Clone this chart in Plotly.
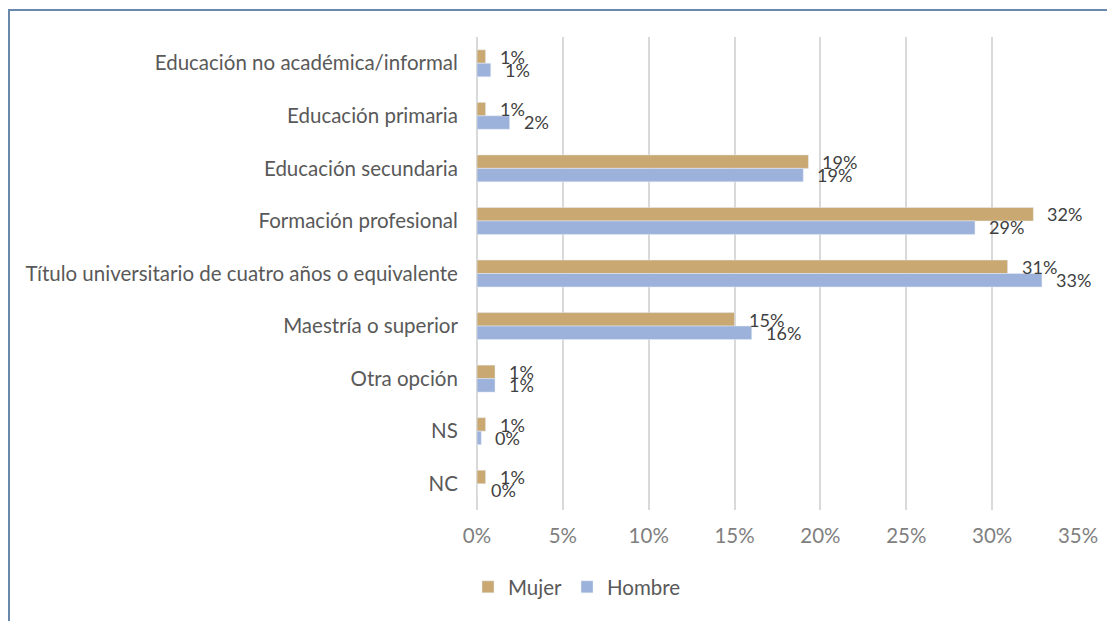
import plotly.graph_objects as go

categories = [
    "Educación no académica/informal",
    "Educación primaria",
    "Educación secundaria",
    "Formación profesional",
    "Título universitario de cuatro años o equivalente",
    "Maestría o superior",
    "Otra opción",
    "NS",
    "NC",
]
mujer = [0.5, 0.5, 19.3, 32.4, 30.9, 15.0, 1.05, 0.5, 0.5]
hombre = [0.8, 1.9, 19.0, 29.0, 32.9, 16.0, 1.05, 0.25, 0.0]
mujer_labels = ["1%", "1%", "19%", "32%", "31%", "15%", "1%", "1%", "1%"]
hombre_labels = ["1%", "2%", "19%", "29%", "33%", "16%", "1%", "0%", "0%"]
x_ticks = [0, 5, 10, 15, 20, 25, 30, 35]
x_ticktext = ["0%", "5%", "10%", "15%", "20%", "25%", "30%", "35%"]

C_MUJER = "#C9A872"
C_HOMBRE = "#9DB2DA"
FONT = "Lato"

# screen geometry of plot area (page has 8px body margin)
PL, PR, PT, PB = 477, 1078, 37, 510

fig = go.Figure()
fig.add_trace(go.Bar(y=categories, x=mujer, name="Mujer", orientation="h",
                     marker=dict(color=C_MUJER)))
fig.add_trace(go.Bar(y=categories, x=hombre, name="Hombre", orientation="h",
                     marker=dict(color=C_HOMBRE)))

annotations = []
for cat, v, t in zip(categories, mujer, mujer_labels):
    annotations.append(dict(x=v, y=cat, xref="x", yref="y", text=t, showarrow=False,
                            xanchor="left", yanchor="middle", xshift=12, yshift=6.5,
                            font=dict(family=FONT, size=18, color="#404040")))
for cat, v, t in zip(categories, hombre, hombre_labels):
    annotations.append(dict(x=v, y=cat, xref="x", yref="y", text=t, showarrow=False,
                            xanchor="left", yanchor="middle", xshift=12, yshift=-6.5,
                            font=dict(family=FONT, size=18, color="#404040")))

W, H = 1115, 621
fig.update_layout(
    width=W, height=H,
    margin=dict(l=PL - 8, r=W + 8 - PR, t=PT - 8, b=H + 8 - PB),
    paper_bgcolor="white", plot_bgcolor="white",
    barmode="group", bargap=0.487, bargroupgap=0,
    font=dict(family=FONT, size=20.5, color="#595959"),
    xaxis=dict(range=[0, 35], tickvals=x_ticks, ticktext=x_ticktext,
               showgrid=True, gridcolor="#D9D9D9", gridwidth=2,
               zeroline=True, zerolinecolor="#D9D9D9", zerolinewidth=2,
               tickfont=dict(family=FONT, size=20.5, color="#7F7F7F"),
               ticks="outside", ticklen=7, tickcolor="white", showline=False, fixedrange=True),
    yaxis=dict(autorange="reversed", showgrid=False, zeroline=False,
               tickfont=dict(family=FONT, size=20.5, color="#595959"),
               ticks="outside", ticklen=14, tickcolor="white", showline=False),
    legend=dict(orientation="h", x=(468 - PL) / (PR - PL), xanchor="left",
                y=(PB - 587) / (PB - PT), yanchor="middle",
                font=dict(family=FONT, size=20.5, color="#595959"),
                itemwidth=30, traceorder="normal"),
    showlegend=True,
    annotations=annotations,
    shapes=[dict(type="rect", xref="paper", yref="paper",
                 x0=(9 - PL) / (PR - PL), x1=(1135 - PL) / (PR - PL),
                 y0=(PB - 640) / (PB - PT), y1=(PB - 10) / (PB - PT),
                 line=dict(color="#6A88AC", width=2), layer="below")],
)

fig.write_html("out.html")
